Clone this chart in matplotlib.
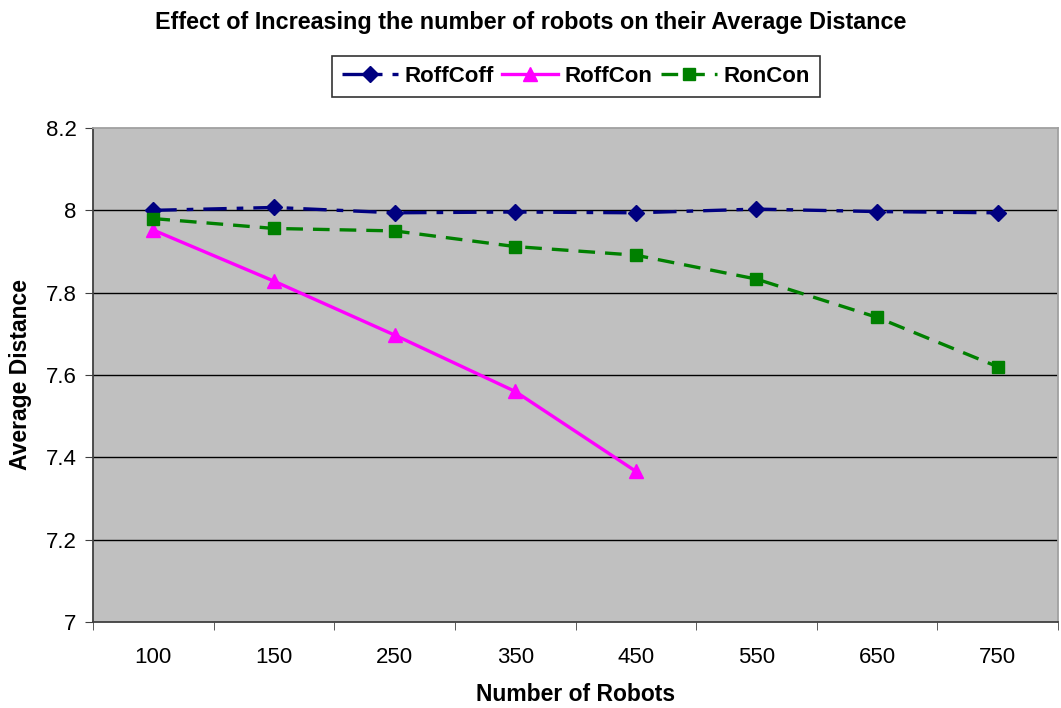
import matplotlib
matplotlib.use("Agg")
import matplotlib.pyplot as plt

# data
robots = ["100", "150", "250", "350", "450", "550", "650", "750"]
roff_coff = [8.000, 8.007, 7.994, 7.996, 7.994, 8.003, 7.997, 7.994]
roff_con = [7.952, 7.828, 7.697, 7.560, 7.366]
ron_con = [7.980, 7.956, 7.950, 7.912, 7.891, 7.833, 7.740, 7.620]
y_ticks = [7, 7.2, 7.4, 7.6, 7.8, 8, 8.2]
y_labels = ["7", "7.2", "7.4", "7.6", "7.8", "8", "8.2"]

plt.rcParams['font.family'] = ['Liberation Sans', 'DejaVu Sans']

fig = plt.figure(figsize=(10.61, 7.08), dpi=100)
ax = fig.add_axes([0.0877, 0.1215, 0.9095, 0.6977])
ax.set_facecolor('#C0C0C0')

x = list(range(len(robots)))

ax.plot(x, roff_coff, color='#000080', lw=2.4, dashes=(7, 3, 2, 3),
        marker='D', ms=8, label='RoffCoff')
ax.plot(x[:len(roff_con)], roff_con, color='#FF00FF', lw=2.4,
        marker='^', ms=10, label='RoffCon')
ax.plot(x, ron_con, color='#008000', lw=2.4, dashes=(5, 3),
        marker='s', ms=8, label='RonCon')

ax.set_xlim(-0.5, len(robots) - 0.5)
ax.set_ylim(7, 8.2)
ax.set_yticks(y_ticks)
ax.set_yticklabels(y_labels)
ax.set_xticks(x)
ax.set_xticklabels(robots)
ax.set_xticks([i - 0.5 for i in range(len(robots) + 1)], minor=True)
ax.tick_params(axis='x', which='major', length=0, pad=18, labelsize=16)
ax.tick_params(axis='x', which='minor', length=6, direction='out', color='#404040')
ax.tick_params(axis='y', length=6, direction='out', labelsize=16, pad=6, color='#404040')

for yv in y_ticks[1:-1]:
    ax.axhline(yv, color='black', lw=1, zorder=0.5)

for s in ['left', 'bottom']:
    ax.spines[s].set_color('#404040')
    ax.spines[s].set_linewidth(1.3)
for s in ['top', 'right']:
    ax.spines[s].set_color('#A0A0A0')
    ax.spines[s].set_linewidth(1.3)

ax.set_xlabel('Number of Robots', fontsize=16.5, fontweight='bold', labelpad=11)
ax.set_ylabel('Average Distance', fontsize=16.5, fontweight='bold', labelpad=10)

fig.text(0.5, 0.968, 'Effect of Increasing the number of robots on their Average Distance',
         ha='center', va='center', fontsize=16.8, fontweight='bold')

leg = ax.legend(loc='center', bbox_to_anchor=(0.5005, 1.105), ncol=3, frameon=True,
                fancybox=False, edgecolor='black', prop={'weight': 'bold', 'size': 16},
                handlelength=2.5, handletextpad=0.3, columnspacing=0.4,
                borderpad=0.45, borderaxespad=0)
leg.get_frame().set_linewidth(1.2)

fig.savefig('out.png', dpi=100)
